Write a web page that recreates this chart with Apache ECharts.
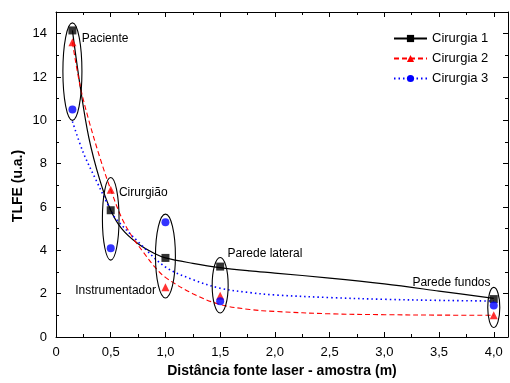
<!DOCTYPE html>
<html><head><meta charset="utf-8">
<script src="https://cdn.jsdelivr.net/npm/echarts@6/dist/echarts.min.js"></script>
<style>html,body{margin:0;padding:0;background:#fff}#c{width:510px;height:383px}</style>
</head><body><div id="c"></div>
<script>
// ---- data ----
var distances = [0.15, 0.5, 1.0, 1.5, 4.0];
var cir1 = [14.15, 5.85, 3.65, 3.25, 1.75];
var cir2 = [13.6, 6.8, 2.3, 1.9, 1.0];
var cir3 = [10.5, 4.1, 5.3, 1.65, 1.45];
// fitted curves
var fitX1 = [0.15, 0.22, 0.3, 0.4, 0.5, 0.6, 0.75, 0.9, 1.0, 1.25, 1.5, 1.77, 2.0, 2.5, 3.0, 3.5, 4.0];
var fit1  = [14.15, 11.6, 9.2, 7.25, 5.85, 5.0, 4.3, 3.85, 3.65, 3.4, 3.2, 3.05, 2.95, 2.72, 2.45, 2.12, 1.78];
var fitX2 = [0.15, 0.22, 0.3, 0.4, 0.5, 0.6, 0.7, 0.8, 0.9, 1.0, 1.25, 1.5, 1.77, 2.0, 2.5, 3.0, 3.5, 4.0];
var fit2  = [13.6, 11.6, 10.0, 8.3, 6.8, 5.5, 4.6, 3.9, 3.25, 2.75, 2.0, 1.5, 1.27, 1.18, 1.07, 1.03, 1.01, 1.0];
var fitX3 = [0.15, 0.25, 0.37, 0.5, 0.54, 0.75, 1.0, 1.25, 1.5, 1.77, 2.0, 2.5, 3.0, 3.5, 4.0];
var fit3  = [9.95, 8.5, 7.2, 5.85, 5.5, 4.4, 3.23, 2.65, 2.25, 2.05, 1.94, 1.82, 1.74, 1.69, 1.66];
var seriesNames = ['Cirurgia 1', 'Cirurgia 2', 'Cirurgia 3'];
var xTickLabels = ['0', '0,5', '1,0', '1,5', '2,0', '2,5', '3,0', '3,5', '4,0'];
// group annotations: [x, yLow, yHigh, halfWidthX]
var groups = [
  [0.15, 10.0, 14.5, 0.087],
  [0.5, 3.55, 7.36, 0.076],
  [1.0, 1.8, 5.67, 0.091],
  [1.5, 1.11, 3.67, 0.073],
  [4.0, 0.44, 2.29, 0.055]
];
var groupLabels = [
  ['Paciente', 0.235, 13.77, 'left'],
  ['Cirurgião', 0.575, 6.67, 'left'],
  ['Instrumentador', 0.913, 2.13, 'right'],
  ['Parede lateral', 1.568, 3.83, 'left'],
  ['Parede fundos', 3.97, 2.5, 'right']
];

function pairs(xs, ys){ return xs.map(function(x,i){ return [x, ys[i]]; }); }

var FONT = '"Liberation Sans", Arial, sans-serif';
var colors = ['#000000', '#ff0000', '#0000ff'];
var symbols = ['rect', 'triangle', 'circle'];
var lineTypes = ['solid', [5, 3], [1.5, 3]];
var lineWidths = [1.2, 1.1, 1.6];
var fits = [pairs(fitX1, fit1), pairs(fitX2, fit2), pairs(fitX3, fit3)];
var pts = [pairs(distances, cir1), pairs(distances, cir2), pairs(distances, cir3)];

var series = [];
for (var i = 0; i < 3; i++) {
  series.push({
    name: seriesNames[i], type: 'line', data: fits[i], smooth: 0.35,
    symbol: symbols[i], symbolSize: 9, showSymbol: false, silent: true,
    lineStyle: { color: colors[i], width: lineWidths[i], type: lineTypes[i] },
    itemStyle: { color: colors[i] }, z: 2
  });
}
for (var i = 0; i < 3; i++) {
  series.push({
    name: seriesNames[i] + ' pts', type: 'scatter', data: pts[i],
    symbol: symbols[i], symbolSize: 8, itemStyle: { color: colors[i] }, z: 4
  });
}

var axisCommon = {
  axisLine: { show: true, onZero: false, lineStyle: { color: '#000', width: 1 } },
  axisTick: { show: true, inside: true, length: 5, lineStyle: { color: '#000' } },
  minorTick: { show: true, splitNumber: 2, length: 3, lineStyle: { color: '#000' } },
  splitLine: { show: false }, minorSplitLine: { show: false }
};

var chart = echarts.init(document.getElementById('c'), null, { renderer: 'canvas' });
var option = {
  animation: false,
  backgroundColor: '#fff',
  grid: { left: 56, right: 2, top: 12, bottom: 46 },
  legend: {
    data: seriesNames, orient: 'vertical', left: 388, top: 27,
    itemWidth: 33, itemHeight: 9, itemGap: 7,
    textStyle: { fontFamily: FONT, fontSize: 13, color: '#000' }
  },
  xAxis: [
    Object.assign({}, axisCommon, {
      type: 'value', min: 0, max: 4.13, interval: 0.5, position: 'bottom',
      name: 'Distância fonte laser - amostra (m)', nameLocation: 'middle', nameGap: 27,
      nameTextStyle: { fontFamily: FONT, fontSize: 14, fontWeight: 'bold', color: '#000' },
      axisLabel: { showMaxLabel: false, margin: 9, fontFamily: FONT, fontSize: 13, color: '#000',
        formatter: function(v){ var k = Math.round(v / 0.5); return xTickLabels[k] || ''; } }
    }),
    Object.assign({}, axisCommon, {
      type: 'value', min: 0, max: 4.13, interval: 0.5, position: 'top',
      axisLabel: { show: false }
    })
  ],
  yAxis: [
    Object.assign({}, axisCommon, {
      type: 'value', min: 0, max: 15, interval: 2, position: 'left',
      axisLabel: { showMaxLabel: false, margin: 9, fontFamily: FONT, fontSize: 13, color: '#000' }
    }),
    Object.assign({}, axisCommon, {
      type: 'value', min: 0, max: 15, interval: 2, position: 'right',
      axisLabel: { show: false }
    })
  ],
  series: series
};
chart.setOption(option);

var g = [];
groups.forEach(function(e){
  var c = chart.convertToPixel({ gridIndex: 0 }, [e[0], (e[1] + e[2]) / 2]);
  var top = chart.convertToPixel({ gridIndex: 0 }, [e[0] + e[3], e[2]]);
  g.push({ type: 'ellipse', silent: true, z: 10,
    shape: { cx: c[0], cy: c[1], rx: top[0] - c[0], ry: c[1] - top[1] },
    style: { fill: null, stroke: '#000', lineWidth: 1.1 } });
});
groupLabels.forEach(function(t){
  var p = chart.convertToPixel({ gridIndex: 0 }, [t[1], t[2]]);
  g.push({ type: 'text', silent: true, z: 10, x: p[0], y: p[1],
    style: { text: t[0], align: t[3], verticalAlign: 'middle', font: '12px ' + FONT, fill: '#000' } });
});
g.push({ type: 'text', silent: true, x: 18, y: 186, rotation: Math.PI / 2,
  style: { text: 'TLFE (u.a.)', align: 'center', verticalAlign: 'middle', font: 'bold 14px ' + FONT, fill: '#000' } });
chart.setOption({ graphic: g });
</script></body></html>
